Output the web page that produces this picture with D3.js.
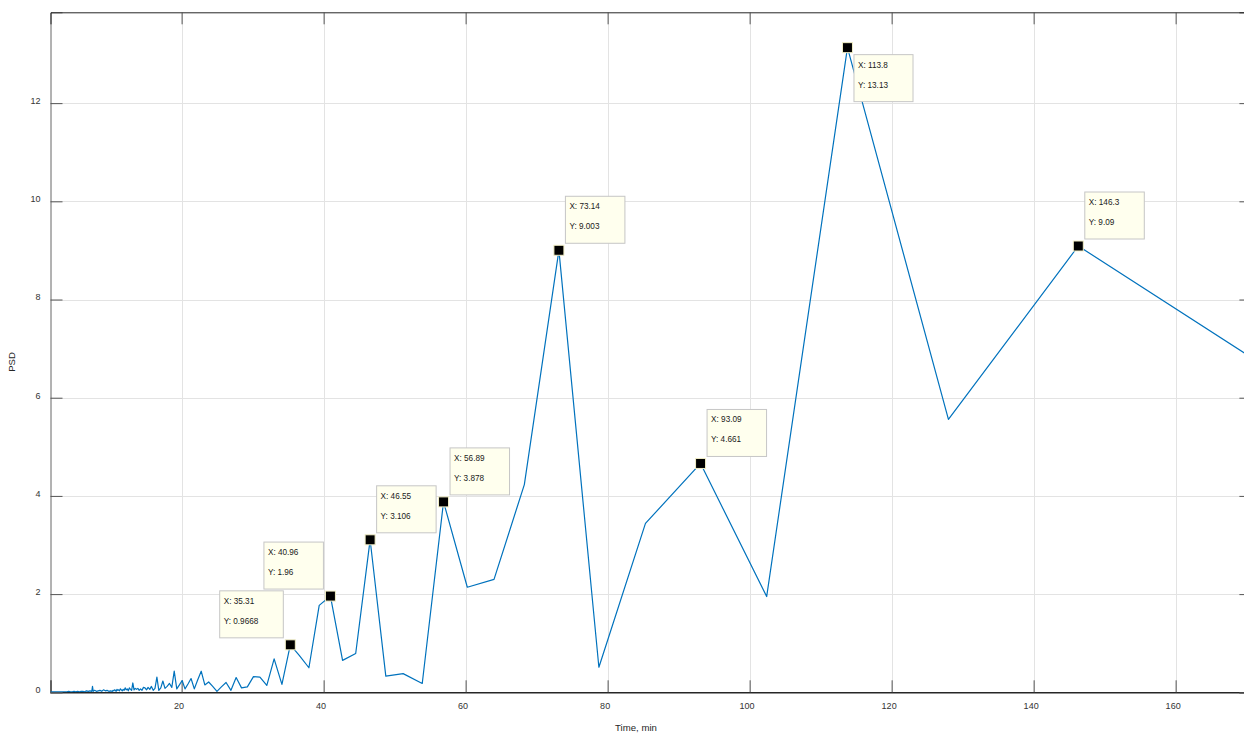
<!DOCTYPE html>
<html>
<head>
<meta charset="utf-8">
<script src="https://cdn.jsdelivr.net/npm/d3@7"></script>
<style>
  html, body { margin: 0; padding: 0; background: #fff; }
  svg { display: block; font-family: "Liberation Sans", Arial, sans-serif; }
</style>
</head>
<body>
<svg id="chart" width="1244" height="734"></svg>
<script>
// Period of each spectral bin (minutes), long periods first
const periodMin = [
  170.67, 146.29, 128.00, 113.78, 102.40, 93.09, 85.33, 78.77, 73.14, 68.27,
  64.00, 60.24, 56.89, 53.89, 51.20, 48.76, 46.55, 44.52, 42.67, 40.96,
  39.38, 37.93, 36.57, 35.31, 34.13, 33.03, 32.00, 31.03, 30.12, 29.26,
  28.44, 27.68, 26.95, 26.26, 25.60, 24.98, 24.38, 23.81, 23.27, 22.76,
  22.26, 21.79, 21.33, 20.90, 20.48, 20.08, 19.69, 19.32, 18.96, 18.62,
  18.29, 17.96, 17.66, 17.36, 17.07, 16.79, 16.52, 16.25, 16.00, 15.75,
  15.52, 15.28, 15.06, 14.84, 14.63, 14.42, 14.22, 14.03, 13.84, 13.65,
  13.47, 13.30, 13.13, 12.96, 12.80, 12.64, 12.49, 12.34, 12.19, 12.05,
  11.91, 11.77, 11.64, 11.51, 11.38, 11.25, 11.13, 11.01, 10.89, 10.78,
  10.67, 10.56, 10.45, 10.34, 10.24,
  10.00, 9.75, 9.50, 9.25, 9.00, 8.75, 8.50, 8.25, 8.00, 7.75,
  7.55, 7.45, 7.35, 7.10, 6.85, 6.60, 6.35, 6.10, 5.85, 5.60,
  5.35, 5.10, 4.85, 4.60, 4.35, 4.10, 3.85, 3.60, 3.35, 3.10,
  2.85, 2.60, 2.35, 2.10, 1.85, 1.60, 1.535
];

// Power spectral density for each period above
const psd = [
  6.82, 9.09, 5.56, 13.13, 1.95, 4.661, 3.44, 0.51, 9.003, 4.23,
  2.30, 2.14, 3.878, 0.18, 0.38, 0.33, 3.106, 0.79, 0.65, 1.96,
  1.77, 0.50, 0.75, 0.9668, 0.16, 0.68, 0.14, 0.31, 0.32, 0.11,
  0.09, 0.30, 0.04, 0.20, 0.11, 0.02, 0.12, 0.21, 0.15, 0.43,
  0.25, 0.07, 0.28, 0.17, 0.07, 0.24, 0.15, 0.07, 0.43, 0.10,
  0.18, 0.12, 0.08, 0.23, 0.09, 0.04, 0.31, 0.08, 0.04, 0.12,
  0.06, 0.10, 0.05, 0.09, 0.10, 0.04, 0.07, 0.04, 0.08, 0.06,
  0.08, 0.05, 0.19, 0.04, 0.06, 0.09, 0.03, 0.07, 0.05, 0.09,
  0.04, 0.06, 0.03, 0.05, 0.07, 0.03, 0.05, 0.04, 0.06, 0.02,
  0.04, 0.05, 0.03, 0.04, 0.02,
  0.03, 0.02, 0.04, 0.03, 0.05, 0.02, 0.04, 0.03, 0.02, 0.04,
  0.02, 0.12, 0.02, 0.03, 0.02, 0.03, 0.01, 0.02, 0.02, 0.01,
  0.02, 0.01, 0.02, 0.01, 0.01, 0.02, 0.01, 0.01, 0.01, 0.01,
  0.01, 0.01, 0.01, 0.01, 0.01, 0.01, 0.01
];

const xTicks = [20, 40, 60, 80, 100, 120, 140, 160];
const yTicks = [0, 2, 4, 6, 8, 10, 12];

// Periods that carry a data tip, and where each tip box sits relative to its point
const tipPeriods = [35.31, 40.96, 46.55, 56.89, 73.14, 93.09, 113.8, 146.3];
const tipPlacement = ["nw", "nw", "ne", "ne", "ne", "ne", "se", "ne"];

const xLabel = "Time, min";
const yLabel = "PSD";

const svg = d3.select("#chart");
const plot = { left: 50.5, right: 1251.4, top: 12.3, bottom: 692.3 };

const x = d3.scaleLinear().domain([1.535, 170.67]).range([plot.left, plot.right]);
const y = d3.scaleLinear().domain([0, 13.85]).range([plot.bottom, plot.top]);

const points = periodMin.map((p, i) => ({ p, v: psd[i] })).sort((a, b) => a.p - b.p);

// grid
const grid = svg.append("g").attr("stroke", "#e3e3e3").attr("stroke-width", 1);
grid.selectAll("line.gx").data(xTicks).join("line")
  .attr("x1", d => Math.round(x(d)) + 0.5).attr("x2", d => Math.round(x(d)) + 0.5)
  .attr("y1", plot.top).attr("y2", plot.bottom);
grid.selectAll("line.gy").data(yTicks.filter(d => d > 0)).join("line")
  .attr("y1", d => Math.round(y(d)) + 0.5).attr("y2", d => Math.round(y(d)) + 0.5)
  .attr("x1", plot.left).attr("x2", plot.right);

// axes with inward ticks on all four sides
const tickLen = 12;
const axisColor = "#262626";
const tickFont = 9;

const bottomAxis = d3.axisBottom(x).tickValues(xTicks).tickSize(-tickLen).tickPadding(10).tickFormat(d3.format("d"));
const leftAxis = d3.axisLeft(y).tickValues(yTicks).tickSize(-tickLen).tickPadding(10).tickFormat(d3.format("d"));
const topAxis = d3.axisTop(x).tickValues(xTicks).tickSize(-tickLen).tickFormat("");
const rightAxis = d3.axisRight(y).tickValues(yTicks).tickSize(-tickLen).tickFormat("");

function styleAxis(g) {
  g.select(".domain").attr("stroke", axisColor);
  g.selectAll(".tick line").attr("stroke", "#555");
  g.selectAll(".tick text").attr("fill", "#333").attr("font-size", tickFont)
    .attr("font-family", "Liberation Sans, Arial, sans-serif");
}

const gB = svg.append("g").attr("transform", `translate(0,${plot.bottom})`).call(bottomAxis).call(styleAxis);
gB.selectAll(".tick text").attr("dx", -3);
gB.select(".domain").attr("stroke-width", 1.5);
const gL = svg.append("g").attr("transform", `translate(${plot.left},0)`).call(leftAxis).call(styleAxis);
gL.selectAll(".tick text").attr("dy", "0.05em");
gL.select(".domain").attr("stroke", "#666");
svg.append("g").attr("transform", `translate(0,${plot.top})`).call(topAxis).call(styleAxis);
svg.append("g").attr("transform", `translate(${plot.right},0)`).call(rightAxis).call(styleAxis);

// axis titles
svg.append("text").attr("x", 636).attr("y", 730.5).attr("text-anchor", "middle")
  .attr("font-size", 9.6).attr("fill", "#262626").text(xLabel);
svg.append("text").attr("transform", "translate(15,362) rotate(-90)").attr("text-anchor", "middle")
  .attr("font-size", 9.6).attr("fill", "#262626").text(yLabel);

// spectrum line
svg.append("clipPath").attr("id", "plotClip").append("rect")
  .attr("x", plot.left).attr("y", plot.top)
  .attr("width", plot.right - plot.left).attr("height", plot.bottom - plot.top);

const line = d3.line().x(d => x(d.p)).y(d => y(d.v));
svg.append("path").datum(points)
  .attr("clip-path", "url(#plotClip)")
  .attr("fill", "none").attr("stroke", "#0072BD").attr("stroke-width", 1.2)
  .attr("stroke-linejoin", "round")
  .attr("d", line);

// data tips
const fmt = d3.format(".4~g");
const tipFont = 8.2;
const tips = svg.append("g");
tipPeriods.forEach((tp, i) => {
  const d = points.reduce((best, q) => Math.abs(q.p - tp) < Math.abs(best.p - tp) ? q : best, points[0]);
  const mx = x(d.p), my = y(d.v);
  const g = tips.append("g");
  const box = g.append("rect").attr("fill", "#ffffee").attr("stroke", "#c6c6c6").attr("stroke-width", 1);
  const t1 = g.append("text").attr("font-size", tipFont).attr("fill", "#1a1a1a").text(`X: ${fmt(d.p)}`);
  const t2 = g.append("text").attr("font-size", tipFont).attr("fill", "#1a1a1a").text(`Y: ${fmt(d.v)}`);
  const w = Math.max(t1.node().getComputedTextLength(), t2.node().getComputedTextLength()) + 29;
  const h = 47;
  const place = tipPlacement[i];
  let bx, by;
  if (place === "ne") { bx = mx + 6.5; by = my - 7 - h; }
  else if (place === "nw") { bx = mx - 7 - w; by = my - 7 - h; }
  else { bx = mx + 6.5; by = my + 7; }
  box.attr("x", bx).attr("y", by).attr("width", w).attr("height", h);
  t1.attr("x", bx + 4).attr("y", by + 13);
  t2.attr("x", bx + 4).attr("y", by + 33);
  g.append("rect").attr("x", mx - 5).attr("y", my - 5).attr("width", 10).attr("height", 10)
    .attr("fill", "#000").attr("stroke", "#f3f0c8").attr("stroke-width", 1);
});
</script>
</body>
</html>
